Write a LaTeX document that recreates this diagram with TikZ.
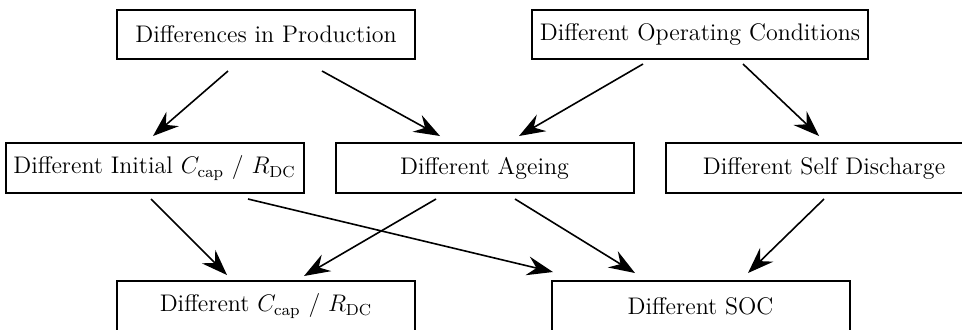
\documentclass[tikz,border=0pt]{standalone}
\usetikzlibrary{arrows.meta,calc}

\tikzset{
  box/.style={draw, line width=1pt, rectangle, minimum width=149pt,
    minimum height=25pt, inner sep=2pt, font=\large},
  arr/.style={line width=0.8pt,
    -{Stealth[length=13pt, width=9.5pt, inset=4.5pt]}}
}

\begin{document}
\begin{tikzpicture}[x=0.5pt, y=-0.5pt]
  \clip (0,0) rectangle (962,329);
  \fill[white] (0,0) rectangle (962,329);

  % causes
  \node[box, minimum height=24.5pt] (prod) at (266,34.5) {Differences in Production};
  \node[box, minimum width=168pt, minimum height=24.5pt] (oper) at (700,34.5) {Different Operating Conditions};

  % intermediate effects
  \node[box] (init) at (154.5,168) {Different Initial $C_{\mathrm{cap}}$ / $R_{\mathrm{DC}}$};
  \node[box] (age) at (484.5,168) {Different Ageing};
  \node[box, minimum width=158pt] (self) at (824,168) {Different Self Discharge};

  % resulting cell differences
  \node[box] (cap) at (266,306) {Different $C_{\mathrm{cap}}$ / $R_{\mathrm{DC}}$};
  \node[box] (soc) at (700.5,306) {Different SOC};

  % connectors
  \draw[arr] ($(prod.south)+(-38,11)$) -- ($(init.north)+(-1.5,-6)$);
  \draw[arr] ($(prod.south)+(56,11)$) -- ($(age.north)+(-44.5,-6)$);
  \draw[arr] ($(oper.south)+(-57,4)$) -- ($(age.north)+(34.5,-6)$);
  \draw[arr] ($(oper.south)+(43,4)$) -- ($(self.north)+(-5,-6)$);

  \draw[arr] ($(init.south)+(-3.5,5)$) -- ($(cap.north)+(-39,-5)$);
  \draw[arr] ($(init.south)+(93.5,5)$) -- ($(soc.north)+(-147.5,-8)$);
  \draw[arr] ($(age.south)+(-48.5,5)$) -- ($(cap.north)+(38,-4)$);
  \draw[arr] ($(age.south)+(30.5,5)$) -- ($(soc.north)+(-65.5,-7)$);
  \draw[arr] ($(self.south)+(0,5)$) -- ($(soc.north)+(47.5,-7)$);
\end{tikzpicture}
\end{document}
